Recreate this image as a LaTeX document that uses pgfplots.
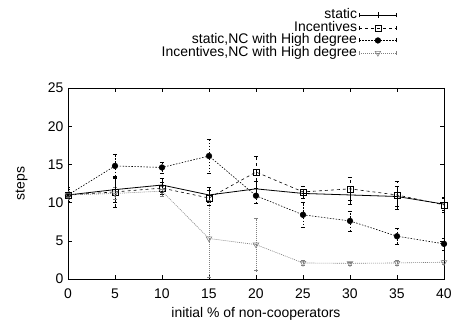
\documentclass[border=0pt]{standalone}
\usepackage{fontspec}
\setmainfont{Liberation Sans}
\usepackage{pgfplots}
\usepackage{pgfplotstable}
\pgfplotsset{compat=1.18}

\pgfplotstableread{
x y e
0 11 1
5 11.7 1.6
10 12.3 0.9
15 11.0 1.0
20 11.8 1.0
25 11.2 0.6
30 11.0 1.2
35 10.8 1.3
40 9.8 0.8
}\tstatic
\pgfplotstableread{
x y e
0 11 0.8
5 11.4 2.0
10 11.9 0.8
15 10.6 1.0
20 14.0 2.1
25 11.4 0.8
30 11.8 1.5
35 11.0 1.8
40 9.7 1.0
}\tinc
\pgfplotstableread{
x y e
0 11 1
5 14.8 1.6
10 14.6 0.7
15 16.1 2.2
20 10.9 1.0
25 8.4 1.6
30 7.6 1.3
35 5.6 1.0
40 4.6 0.8
}\tstaticnc
\pgfplotstableread{
x y e
0 11 0.5
5 11.2 0.8
10 11.5 0.6
15 5.3 5.0
20 4.5 3.4
25 2.1 0.3
30 2.05 0.2
35 2.1 0.3
40 2.2 0.3
}\tincnc

\begin{document}
\begin{tikzpicture}
\useasboundingbox (-68bp,-48bp) rectangle (385bp,279bp);
\begin{axis}[
  scale only axis, width=376bp, height=191bp,
  xmin=0, xmax=40, ymin=0, ymax=25,
  xtick={0,5,...,40}, ytick={0,5,...,25},
  tick align=inside, major tick length=4bp,
  tick style={black, line width=0.5pt},
  axis line style={line width=0.6pt},
  font=\fontsize{14}{16}\selectfont,
  /pgf/number format/assume math mode=true,
  xticklabel style={yshift=-6bp},
  yticklabel style={xshift=-1bp},
  xlabel={initial \% of non-cooperators}, ylabel={steps},
  xlabel style={at={(axis description cs:0.5,0)}, anchor=north, yshift=-25bp},
  ylabel style={at={(axis description cs:0,0.5)}, anchor=south, yshift=37bp},
  legend style={draw=none, fill=none, at={(0.883,1.424)}, anchor=north east,
    font=\fontsize{14}{15}\selectfont, row sep=0pt,
    nodes={inner ysep=0pt, text height=9.7bp, text depth=2.8bp}},
  legend cell align=right,
  legend plot pos=right,
  legend image code/.code={
    \draw[#1, mark repeat=2, mark phase=2] plot coordinates {(0bp,0bp) (18.5bp,0bp) (37bp,0bp)};
    \draw[#1, solid] (0bp,-2bp)--(0bp,2bp) (37bp,-2bp)--(37bp,2bp);
  },
  error bars/y dir=both, error bars/y explicit,
  error bars/error mark options={rotate=90, mark size=2bp, solid},
]
\addplot[black, line width=0.8pt, mark=|, mark size=3bp, mark options={solid}]
  table[x=x, y=y, y error=e] {\tstatic};
\addlegendentry{static}
\addplot[black, line width=0.6pt, dashed, mark=square, mark size=3bp, mark options={solid}]
  table[x=x, y=y, y error=e] {\tinc};
\addlegendentry{Incentives}
\addplot[black, line width=0.6pt, dash pattern=on 1.5pt off 1.5pt, mark=*, mark size=2.8bp, mark options={solid}]
  table[x=x, y=y, y error=e] {\tstaticnc};
\addlegendentry{static,NC with High degree}
\addplot[gray, line width=0.6pt, dash pattern=on 1pt off 1pt, mark=triangle, mark size=3.2bp, mark options={solid, rotate=180, fill=white}]
  table[x=x, y=y, y error=e] {\tincnc};
\addlegendentry{Incentives,NC with High degree}
\end{axis}
\end{tikzpicture}
\end{document}
